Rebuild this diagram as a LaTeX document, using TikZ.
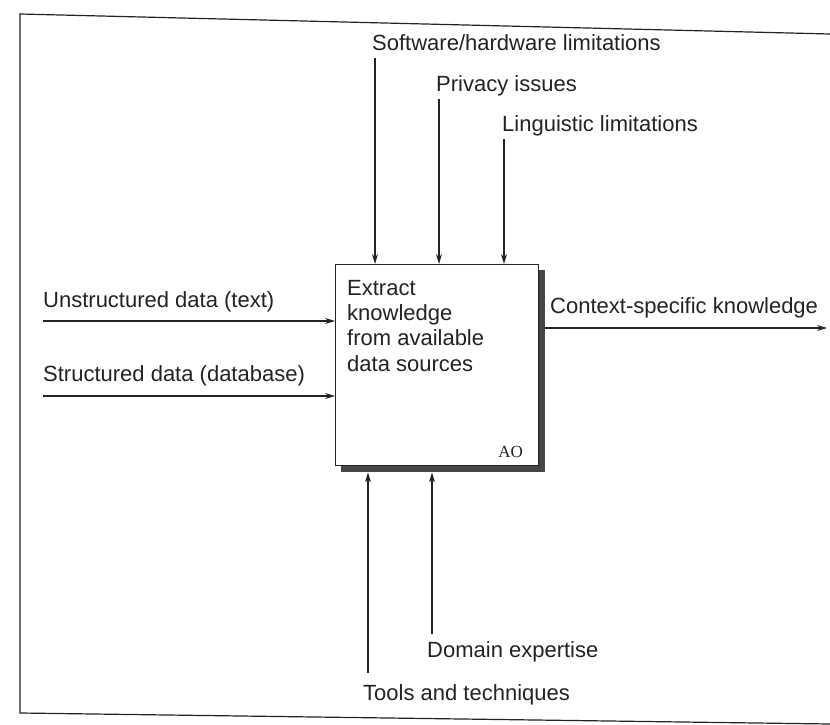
\documentclass[tikz,border=0pt]{standalone}
\usepackage{fontspec}
\setmainfont{Liberation Sans}
\newfontfamily\aofont{Liberation Serif}
\usetikzlibrary{arrows.meta}
\definecolor{ink}{RGB}{35,35,35}
\definecolor{shadowgray}{RGB}{70,70,70}
\newcommand{\lblfont}{\fontsize{22}{25.3}\selectfont}
\begin{document}
\begin{tikzpicture}[x=1pt,y=-1pt,
  lbl/.style={anchor=base west, inner sep=0pt, font=\lblfont, text=ink},
  flow/.style={draw=ink, line width=1.1pt, -{Stealth[length=10pt,width=6pt]}},
  frameline/.style={draw=ink, line width=1.2pt}]
\useasboundingbox (0,0) rectangle (830,725);
\fill[white] (0,0) rectangle (830,725);

% outer frame (open on the right)
\draw[frameline] (830,34) -- (20,14) -- (20,713) -- (830,724);

% activity box with drop shadow
\node[fill=shadowgray, minimum width=204pt, minimum height=202pt,
      anchor=north west, inner sep=0pt] (shadow) at (341,270) {};
\node[draw=ink, line width=1.3pt, fill=white, minimum width=203pt,
      minimum height=201pt, anchor=north west, inner sep=0pt] (box) at (335,264) {};
\node[anchor=north west, inner sep=0pt, font=\lblfont, text=ink, align=left]
      (task) at (347,280) {Extract\\knowledge\\from available\\data sources};
\node[anchor=base east, inner sep=0pt, font=\aofont\fontsize{17}{20}\selectfont, text=ink]
      (code) at (523,457) {AO};

% controls (top)
\node[lbl] (swhw) at (372,51) {Software/hardware limitations};
\node[lbl] (priv) at (436,92) {Privacy issues};
\node[lbl] (ling) at (502,131) {Linguistic limitations};
\coordinate (c1) at (375,58);
\coordinate (c2) at (439,99);
\coordinate (c3) at (504,139);
\draw[flow] (c1) -- (c1 |- box.north);
\draw[flow] (c2) -- (c2 |- box.north);
\draw[flow] (c3) -- (c3 |- box.north);

% inputs (left)
\node[lbl] (unstr) at (43,307) {Unstructured data (text)};
\node[lbl] (str) at (43,381) {Structured data (database)};
\coordinate (i1) at (43,321);
\coordinate (i2) at (43,396);
\draw[flow] (i1) -- (i1 -| box.west);
\draw[flow] (i2) -- (i2 -| box.west);

% output (right)
\node[lbl] (ctx) at (550,313) {Context-specific knowledge};
\coordinate (o1) at (827,328);
\draw[flow] (o1 -| shadow.east) -- (o1);

% mechanisms (bottom)
\node[lbl] (dom) at (427,657) {Domain expertise};
\node[lbl] (tools) at (363,700) {Tools and techniques};
\coordinate (m1) at (368,673);
\coordinate (m2) at (432,634);
\draw[flow] (m1) -- (m1 |- shadow.south);
\draw[flow] (m2) -- (m2 |- shadow.south);
\end{tikzpicture}
\end{document}
